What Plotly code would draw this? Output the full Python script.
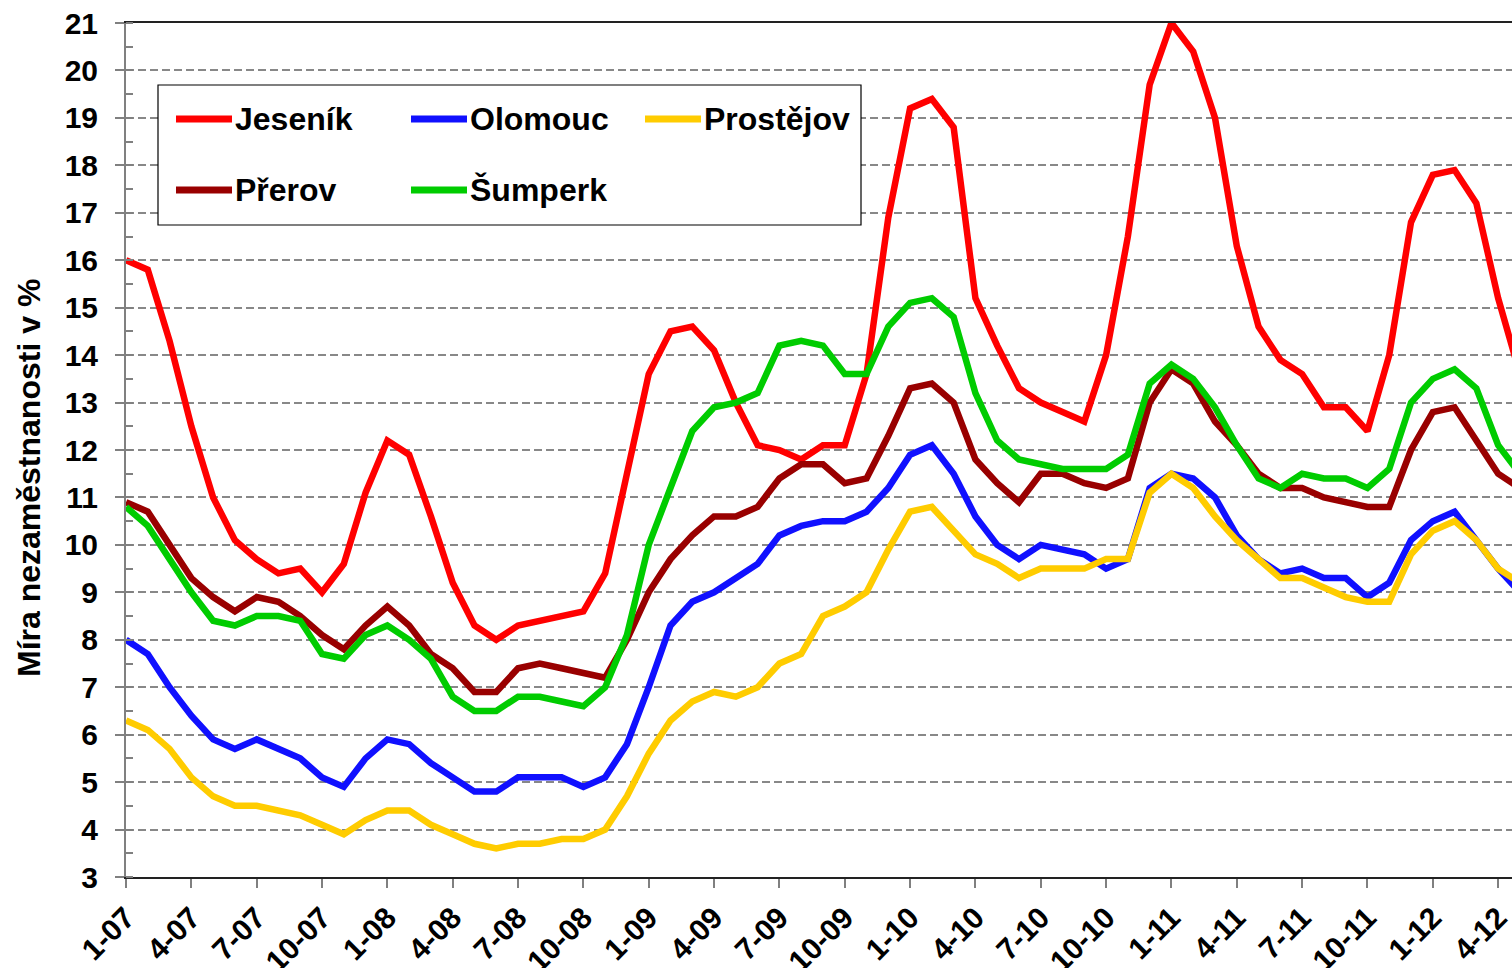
import plotly.graph_objects as go

months = [f"{m}-{y:02d}" for y in range(7, 13) for m in range(1, 13)][:65]
tick_labels = months[::3]

series_names = ["Jeseník", "Olomouc", "Prostějov", "Přerov", "Šumperk"]
series_colors = ["#FF0000", "#1010FF", "#FFCC00", "#990000", "#00CC00"]

jesenik = [16.0, 15.8, 14.3, 12.5, 11.0, 10.1, 9.7, 9.4, 9.5, 9.0,
           9.6, 11.1, 12.2, 11.9, 10.6, 9.2, 8.3, 8.0, 8.3, 8.4,
           8.5, 8.6, 9.4, 11.5, 13.6, 14.5, 14.6, 14.1, 13.0, 12.1,
           12.0, 11.8, 12.1, 12.1, 13.6, 16.9, 19.2, 19.4, 18.8, 15.2,
           14.2, 13.3, 13.0, 12.8, 12.6, 14.0, 16.5, 19.7, 21.0, 20.4,
           19.0, 16.3, 14.6, 13.9, 13.6, 12.9, 12.9, 12.4, 14.0, 16.8,
           17.8, 17.9, 17.2, 15.2, 13.6]
olomouc = [8.0, 7.7, 7.0, 6.4, 5.9, 5.7, 5.9, 5.7, 5.5, 5.1,
           4.9, 5.5, 5.9, 5.8, 5.4, 5.1, 4.8, 4.8, 5.1, 5.1,
           5.1, 4.9, 5.1, 5.8, 7.0, 8.3, 8.8, 9.0, 9.3, 9.6,
           10.2, 10.4, 10.5, 10.5, 10.7, 11.2, 11.9, 12.1, 11.5, 10.6,
           10.0, 9.7, 10.0, 9.9, 9.8, 9.5, 9.7, 11.2, 11.5, 11.4,
           11.0, 10.2, 9.7, 9.4, 9.5, 9.3, 9.3, 8.9, 9.2, 10.1,
           10.5, 10.7, 10.1, 9.5, 9.0]
prostejov = [6.3, 6.1, 5.7, 5.1, 4.7, 4.5, 4.5, 4.4, 4.3, 4.1,
             3.9, 4.2, 4.4, 4.4, 4.1, 3.9, 3.7, 3.6, 3.7, 3.7,
             3.8, 3.8, 4.0, 4.7, 5.6, 6.3, 6.7, 6.9, 6.8, 7.0,
             7.5, 7.7, 8.5, 8.7, 9.0, 9.9, 10.7, 10.8, 10.3, 9.8,
             9.6, 9.3, 9.5, 9.5, 9.5, 9.7, 9.7, 11.1, 11.5, 11.2,
             10.6, 10.1, 9.7, 9.3, 9.3, 9.1, 8.9, 8.8, 8.8, 9.8,
             10.3, 10.5, 10.1, 9.5, 9.2]
prerov = [10.9, 10.7, 10.0, 9.3, 8.9, 8.6, 8.9, 8.8, 8.5, 8.1,
          7.8, 8.3, 8.7, 8.3, 7.7, 7.4, 6.9, 6.9, 7.4, 7.5,
          7.4, 7.3, 7.2, 8.0, 9.0, 9.7, 10.2, 10.6, 10.6, 10.8,
          11.4, 11.7, 11.7, 11.3, 11.4, 12.3, 13.3, 13.4, 13.0, 11.8,
          11.3, 10.9, 11.5, 11.5, 11.3, 11.2, 11.4, 13.0, 13.7, 13.4,
          12.6, 12.1, 11.5, 11.2, 11.2, 11.0, 10.9, 10.8, 10.8, 12.0,
          12.8, 12.9, 12.2, 11.5, 11.2]
sumperk = [10.8, 10.4, 9.7, 9.0, 8.4, 8.3, 8.5, 8.5, 8.4, 7.7,
           7.6, 8.1, 8.3, 8.0, 7.6, 6.8, 6.5, 6.5, 6.8, 6.8,
           6.7, 6.6, 7.0, 8.1, 10.0, 11.2, 12.4, 12.9, 13.0, 13.2,
           14.2, 14.3, 14.2, 13.6, 13.6, 14.6, 15.1, 15.2, 14.8, 13.2,
           12.2, 11.8, 11.7, 11.6, 11.6, 11.6, 11.9, 13.4, 13.8, 13.5,
           12.9, 12.1, 11.4, 11.2, 11.5, 11.4, 11.4, 11.2, 11.6, 13.0,
           13.5, 13.7, 13.3, 12.1, 11.5]

y_ticks = list(range(3, 22))
y_title = "Míra nezaměstnanosti v %"

FONT = "Liberation Sans, Arial, sans-serif"
W, H = 1512, 968
# plot area in screen pixels (reference)
SL, ST, SB, SR = 126, 23, 877, 1512
MONTH_PX = 21.78
ML, MT, MR, MB = SL, ST, W - SR, H - SB
X_MAX = (SR - SL) / MONTH_PX


def px_x(sx):
    return (sx - SL) / (SR - SL)


def px_y(sy):
    return (SB - sy) / (SB - ST)


fig = go.Figure()
all_series = [jesenik, olomouc, prostejov, prerov, sumperk]
for name, color, vals in zip(series_names, series_colors, all_series):
    fig.add_trace(go.Scatter(x=months, y=vals, mode="lines", name=name,
                             line=dict(color=color, width=6.5),
                             showlegend=False))

# manual legend
shapes = [dict(type="rect", xref="paper", yref="paper",
               x0=px_x(158), x1=px_x(861), y0=px_y(225), y1=px_y(85),
               line=dict(color="black", width=1.2), fillcolor="white",
               layer="above")]
annotations = []
legend_pos = [(176, 119), (411, 119), (645, 119), (176, 190), (411, 190)]
for (lx, ly), name, color in zip(legend_pos, series_names, series_colors):
    shapes.append(dict(type="line", xref="paper", yref="paper",
                       x0=px_x(lx), x1=px_x(lx + 56), y0=px_y(ly), y1=px_y(ly),
                       line=dict(color=color, width=7), layer="above"))
    annotations.append(dict(xref="paper", yref="paper", x=px_x(lx + 57), y=px_y(ly),
                            xanchor="left", yanchor="middle", showarrow=False,
                            text=f"<b>{name}</b>",
                            font=dict(family=FONT, size=32, color="black")))

# y-axis title
annotations.append(dict(xref="paper", yref="paper", x=px_x(29), y=px_y(478),
                        xanchor="center", yanchor="middle", showarrow=False,
                        textangle=-90, text=f"<b>{y_title}</b>",
                        font=dict(family=FONT, size=32, color="black")))

fig.update_layout(
    width=W, height=H,
    margin=dict(l=ML, r=MR, t=MT, b=MB, pad=0, autoexpand=False),
    paper_bgcolor="white", plot_bgcolor="white",
    font=dict(family=FONT, color="black"),
    shapes=shapes, annotations=annotations,
    showlegend=False,
)
fig.update_xaxes(
    type="category", range=[0, X_MAX], automargin=False,
    tickmode="array", tickvals=tick_labels, ticktext=[f"<b>{t}</b>" for t in tick_labels],
    tickangle=-45, tickfont=dict(family=FONT, size=30, color="black"),
    ticklabeloverflow="allow",
    ticks="outside", ticklen=9, tickwidth=1.5, tickcolor="#808080",
    showline=True, linecolor="#222222", linewidth=2, mirror=True,
    showgrid=False, zeroline=False,
)
fig.update_yaxes(
    range=[3, 21], automargin=False, tickmode="array", tickvals=y_ticks,
    ticktext=[f"<b>{t}</b>" for t in y_ticks],
    tickfont=dict(family=FONT, size=30, color="black"),
    ticklabeloverflow="allow",
    ticks="outside", ticklen=9, tickwidth=1.5, tickcolor="#808080",
    ticklabelstandoff=11,
    minor=dict(dtick=0.5, tick0=3, ticks="inside", ticklen=7, tickwidth=1.5,
               tickcolor="#808080", showgrid=False),
    showline=True, linecolor="#808080", linewidth=2,
    showgrid=True, gridcolor="#888888", gridwidth=1.5, griddash="8px,4px",
    zeroline=False,
)

fig.write_html("out.html", config={"displayModeBar": False},
               post_script="document.body.style.margin='0';document.body.style.overflow='hidden';")
